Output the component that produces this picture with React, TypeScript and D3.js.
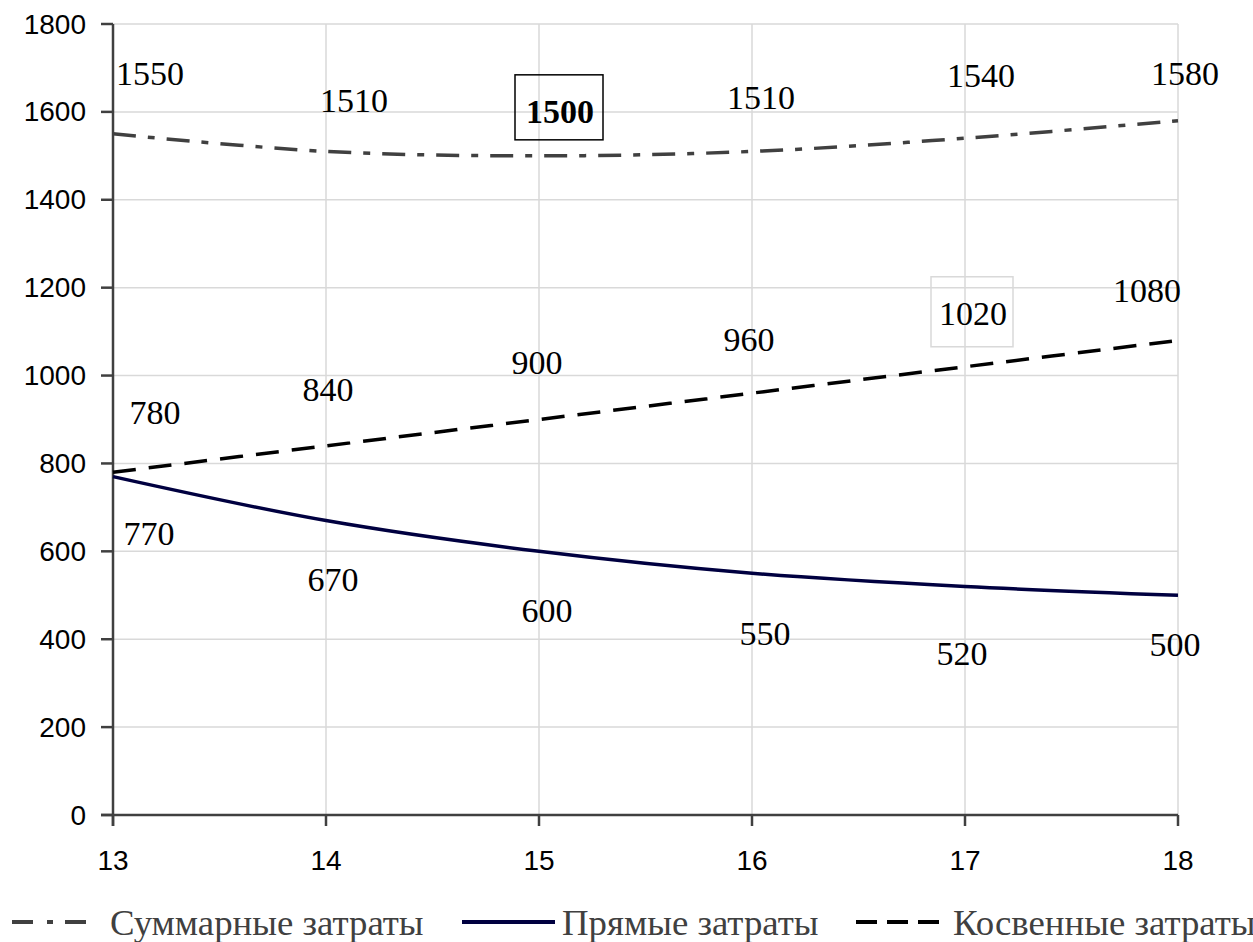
import React from "react";
import * as d3 from "d3";

const xValues = [13, 14, 15, 16, 17, 18];
const yTicks = [0, 200, 400, 600, 800, 1000, 1200, 1400, 1600, 1800];
const totalCosts = [1550, 1510, 1500, 1510, 1540, 1580];
const directCosts = [770, 670, 600, 550, 520, 500];
const indirectCosts = [780, 840, 900, 960, 1020, 1080];
const seriesNames = ["Суммарные затраты", "Прямые затраты", "Косвенные затраты"];

// label nudges (pixels relative to point)
const totalNudge: [number, number][] = [[37, -60], [28, -51], [21, -44], [9, -54], [16, -63], [7, -47]];
const directNudge: [number, number][] = [[36, 57], [7, 59], [8, 59], [13, 60], [-3, 67], [-3, 49]];
const indirectNudge: [number, number][] = [[42, -60], [2, -56], [-2, -57], [-3, -54], [8, -53], [-31, -50]];

const W = 1253;
const H = 942;
const left = 113;
const right = 1178;
const top = 24;
const bottom = 815;

export default function App() {
  const x = d3.scaleLinear().domain([13, 18]).range([left, right]);
  const y = d3.scaleLinear().domain([0, 1800]).range([bottom, top]);
  const line = d3
    .line<number>()
    .x((_, i) => x(xValues[i]))
    .y((d) => y(d))
    .curve(d3.curveCatmullRom.alpha(0.5));

  const grid = "#d9d9d9";
  const axis = "#404040";
  const serif = "'Liberation Serif', 'Times New Roman', serif";
  const sans = "'Liberation Sans', Arial, sans-serif";

  const labels = (vals: number[], nudge: [number, number][], special?: (i: number) => any) =>
    vals.map((v, i) => (
      <text
        key={i}
        x={x(xValues[i]) + nudge[i][0]}
        y={y(v) + nudge[i][1]}
        textAnchor="middle"
        dominantBaseline="central"
        fontFamily={serif}
        fontSize={34}
        fill="#000"
        {...(special ? special(i) : {})}
      >
        {v}
      </text>
    ));

  const boxBold = (cx: number, cy: number) => (
    <rect x={cx - 44} y={cy - 35} width={88} height={65} fill="none" stroke="#000" strokeWidth={1.5} />
  );

  return (
    <svg width={W} height={H} style={{ position: "absolute", left: 0, top: 0, background: "#fff" }}>
      {/* grid */}
      {yTicks.slice(1).map((t) => (
        <line key={"h" + t} x1={left} x2={right} y1={y(t)} y2={y(t)} stroke={grid} strokeWidth={1.5} />
      ))}
      {xValues.slice(1).map((t) => (
        <line key={"v" + t} x1={x(t)} x2={x(t)} y1={top} y2={bottom} stroke={grid} strokeWidth={1.5} />
      ))}
      {/* axes */}
      <line x1={left} x2={left} y1={top} y2={bottom + 11} stroke={axis} strokeWidth={2.5} />
      <line x1={left - 12} x2={right} y1={bottom} y2={bottom} stroke={axis} strokeWidth={2.5} />
      {yTicks.map((t) => (
        <g key={"yt" + t}>
          <line x1={left - 12} x2={left} y1={y(t)} y2={y(t)} stroke={axis} strokeWidth={2.5} />
          <text x={86} y={y(t)} textAnchor="end" dominantBaseline="central" fontFamily={sans} fontSize={28} fill="#000">
            {t}
          </text>
        </g>
      ))}
      {xValues.map((t) => (
        <g key={"xt" + t}>
          <line x1={x(t)} x2={x(t)} y1={bottom} y2={bottom + 11} stroke={axis} strokeWidth={2.5} />
          <text x={x(t)} y={860} textAnchor="middle" dominantBaseline="central" fontFamily={sans} fontSize={28} fill="#000">
            {t}
          </text>
        </g>
      ))}
      {/* series */}
      <path d={line(totalCosts) || ""} fill="none" stroke="#404040" strokeWidth={3.5} strokeDasharray="23 12 7 12" />
      <path d={line(indirectCosts) || ""} fill="none" stroke="#000" strokeWidth={3.5} strokeDasharray="23 13" />
      <path d={line(directCosts) || ""} fill="none" stroke="#000040" strokeWidth={3.5} />
      {/* boxes */}
      <rect
        x={x(17) + indirectNudge[4][0] - 42}
        y={y(1020) + indirectNudge[4][1] - 37}
        width={82}
        height={70}
        fill="none"
        stroke={grid}
        strokeWidth={1.5}
      />
      {boxBold(x(15) + totalNudge[2][0] - 1, y(1500) + totalNudge[2][1] - 2)}
      {/* labels */}
      {labels(totalCosts, totalNudge, (i) => (i === 2 ? { fontWeight: "bold" } : {}))}
      {labels(directCosts, directNudge)}
      {labels(indirectCosts, indirectNudge)}
      {/* legend */}
      <line x1={12} x2={88} y1={922} y2={922} stroke="#404040" strokeWidth={4} strokeDasharray="21 14 6 12" />
      <text x={110} y={935} fontFamily={serif} fontSize={36.8} fill="#404040">
        {seriesNames[0]}
      </text>
      <line x1={462} x2={555} y1={922} y2={922} stroke="#000040" strokeWidth={4} />
      <text x={562} y={935} fontFamily={serif} fontSize={36.8} fill="#404040">
        {seriesNames[1]}
      </text>
      <line x1={856} x2={946} y1={922} y2={922} stroke="#000" strokeWidth={4} strokeDasharray="21 10" />
      <text x={953} y={935} fontFamily={serif} fontSize={36.8} fill="#404040">
        {seriesNames[2]}
      </text>
    </svg>
  );
}
